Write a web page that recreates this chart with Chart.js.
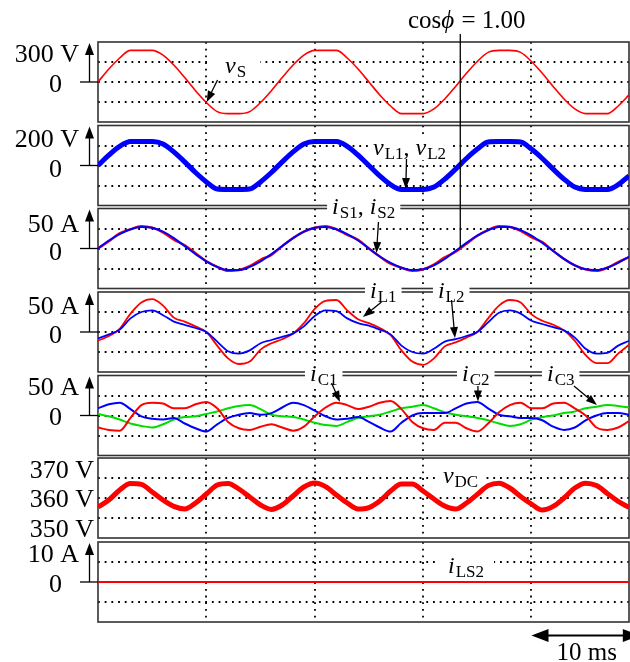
<!DOCTYPE html>
<html>
<head>
<meta charset="utf-8">
<script src="https://cdn.jsdelivr.net/npm/chart.js@4.4.0/dist/chart.umd.min.js"></script>
<style>
  body { margin: 0; background: #fff; }
  #wrap { position: relative; width: 630px; height: 662px; overflow: hidden; background: #fff; }
  #wrap canvas { position: absolute; left: 0; top: 0; }
</style>
</head>
<body>
<div id="wrap"></div>
<script>
// time axis, ms (one sample per ms)
const timeMs = [0, 1, 2, 3, 4, 5, 6, 7, 8, 9, 10, 11, 12, 13, 14, 15, 16, 17, 18, 19, 20, 21, 22, 23, 24,
  25, 26, 27, 28, 29, 30, 31, 32, 33, 34, 35, 36, 37, 38, 39, 40, 41, 42, 43, 44, 45, 46, 47, 48, 49];
const xGrid = [10, 20, 30, 40];

// source voltage (V)
const vS = [0, 97, 180, 237, 237, 237, 202, 127, 33, -65, -154, -222, -237, -237, -222, -154, -65, 33, 127, 202,
  237, 237, 237, 180, 97, 0, -97, -180, -237, -237, -237, -202, -127, -33, 65, 154, 222, 237, 237, 222,
  154, 65, -33, -127, -202, -237, -237, -237, -180, -97];

// load voltages (V)
const vL1 = [0, 55, 98, 122, 121, 122, 110, 66, 15, -37, -84, -120, -122, -121, -120, -80, -33, 20, 70, 110,
  122, 121, 122, 98, 50, -2, -54, -98, -122, -121, -122, -110, -66, -16, 37, 84, 120, 122, 121, 120,
  80, 33, -20, -70, -110, -122, -121, -122, -98, -50];
const vL2 = [0, 52, 96, 120, 120, 120, 108, 68, 18, -35, -82, -118, -120, -120, -118, -82, -35, 18, 68, 108,
  120, 120, 120, 96, 52, 0, -52, -96, -120, -120, -120, -108, -68, -18, 35, 82, 118, 120, 120, 118,
  82, 35, -18, -68, -108, -120, -120, -120, -96, -52];

// source currents (A)
const iS1 = [0, 9, 19, 24, 28, 26, 20, 11, 4, -6, -16, -23, -28, -27, -22, -14, -8, 3, 13, 21,
  26, 28, 24, 17, 11, 0, -10, -19, -24, -28, -26, -20, -11, -4, 6, 16, 23, 28, 27, 22,
  14, 8, -3, -13, -21, -26, -28, -24, -17, -11];
const iS2 = [0, 10, 18, 24, 27, 26, 21, 13, 3, -7, -16, -23, -27, -27, -23, -16, -7, 3, 13, 21,
  26, 27, 24, 18, 10, 0, -10, -18, -24, -27, -26, -21, -13, -3, 7, 16, 23, 27, 27, 23,
  16, 7, -3, -13, -21, -26, -27, -24, -18, -10];

// load currents (A)
const iL1 = [-11, -5, 4, 23, 37, 41, 33, 18, 13, 7, 0, -17, -33, -40, -37, -22, -14, -9, -2, 11,
  29, 39, 40, 27, 16, 11, 5, -4, -23, -37, -41, -33, -18, -13, -7, 0, 17, 33, 40, 37,
  22, 14, 9, 2, -11, -29, -39, -39, -27, -16];
const iL2 = [-8, -3, 3, 17, 25, 27, 21, 13, 9, 5, 0, -12, -24, -27, -23, -14, -10, -6, -2, 7,
  20, 27, 26, 17, 11, 8, 3, -3, -17, -25, -27, -21, -12, -9, -5, 0, 12, 24, 27, 23,
  14, 10, 6, 2, -7, -21, -27, -26, -17, -11];

// capacitor currents (A)
const iC1 = [-15, -18, -19, -3, 13, 16, 15, 9, 9, 14, 17, 9, -8, -16, -18, -14, -11, -15, -19, -14,
  -1, 10, 16, 13, 8, 11, 16, 18, 8, -8, -16, -18, -9, -9, -16, -20, -10, 4, 13, 16,
  9, 9, 15, 16, 9, 0, -15, -18, -15, -7];
const iC2 = [9, 14, 16, 8, -1, -4, -5, -3, -10, -16, -20, -11, -3, 1, 3, 1, 3, 10, 16, 13,
  6, -1, -5, -4, -2, -8, -15, -20, -9, 0, 3, 3, 3, 9, 15, 17, 9, 1, -1, -3,
  -3, -6, -14, -18, -15, -6, 0, 3, 3, 1];
const iC3 = [2, -1, -5, -10, -13, -15, -11, -5, -2, -1, 2, 5, 9, 12, 13, 8, 1, -1, -2, -5,
  -9, -12, -13, -8, -3, -1, 1, 5, 9, 11, 13, 9, 4, 1, -1, -3, -6, -10, -13, -11,
  -5, -2, 0, 3, 5, 9, 11, 13, 12, 10];

// dc link voltage (V)
const vDC = [355.5, 359, 364, 367.2, 366.8, 363, 359, 355.8, 354.5, 357.5, 362, 366.5, 367.3, 364.5, 360.5,
  356.5, 354.3, 356.5, 361, 365.5, 367.5, 365.7, 361.5, 357.5, 354.5, 355.2, 358.5, 363.5, 367, 367,
  363.5, 359.5, 356, 354.5, 357.5, 361.8, 366.2, 367.4, 365, 360.8, 357, 354, 355.8, 360, 365,
  367.4, 366.2, 362.3, 358.3, 355.3];

// switch current (A)
const tLS2 = [0, 49];
const iLS2 = [0, 0];

const SERIF = '"Liberation Serif", "Times New Roman", serif';
const RED = "#ff0000", BLUE = "#0000ff", GREEN = "#00dd00";

// series are listed bottom to top
const panels = [
  {
    top: 42, min: -300, max: 300, grid: [-150, 0, 150],
    series: [{ y: vS, color: RED, w: 1.6 }],
    labels: [{ text: "300 V", v: 152, x: 79 }, { text: "0", v: -73, x: 62 }],
    notes: [
      { parts: [["v", "it"], ["S", "sub"]], t: 11.72, v: 67.5, pad: 14 },
      { parts: [["cos", "rm"], ["\u03d5", "it"], [" = 1.00", "rm"]], t: 28.6, v: 405, size: 25 }
    ],
    arrows: [{ from: [11.03, 15], to: [10.03, -150] }]
  },
  {
    top: 125.5, min: -200, max: 200, grid: [-100, 0, 100],
    series: [{ y: vL1, color: RED, w: 3.2 }, { y: vL2, color: BLUE, w: 5 }],
    labels: [{ text: "200 V", v: 94, x: 79 }, { text: "0", v: -56, x: 62 }],
    notes: [{ parts: [["v", "it"], ["L1", "sub"], [", ", "rm"], ["v", "it"], ["L2", "sub"]], t: 25.38, v: 52.5, pad: 5 }],
    arrows: [{ from: [28.47, 32.5], to: [28.4, -117.5] }]
  },
  {
    top: 208.5, min: -50, max: 50, grid: [-25, 0, 25],
    series: [{ y: iS1, color: RED, w: 2.4 }, { y: iS2, color: BLUE, w: 2 }],
    labels: [{ text: "50 A", v: 21, x: 79 }, { text: "0", v: -14.4, x: 62 }],
    notes: [{ parts: [["i", "it"], ["S1", "sub"], [", ", "rm"], ["i", "it"], ["S2", "sub"]], t: 21.6, v: 43.75, pad: 5 }],
    arrows: [{ from: [25.88, 33.1], to: [25.7, -5.6] }],
    vline: { t: 33.43, v1: 268, v2: 1.5 }
  },
  {
    top: 292, min: -50, max: 50, grid: [-25, 0, 25],
    series: [{ y: iL1, color: RED, w: 1.8 }, { y: iL2, color: BLUE, w: 1.8 }],
    labels: [{ text: "50 A", v: 23, x: 79 }, { text: "0", v: -14.1, x: 62 }],
    notes: [
      { parts: [["i", "it"], ["L1", "sub"]], t: 25.1, v: 42.5, pad: 5 },
      { parts: [["i", "it"], ["L2", "sub"]], t: 31.37, v: 42.5, pad: 5 }
    ],
    arrows: [{ from: [26.16, 37.5], to: [24.45, 18.75] }, { from: [32.62, 40], to: [32.94, -7.5] }]
  },
  {
    top: 375.5, min: -50, max: 50, grid: [-25, 0, 25],
    series: [{ y: iC3, color: GREEN, w: 2 }, { y: iC2, color: BLUE, w: 2 }, { y: iC1, color: RED, w: 2 }],
    labels: [{ text: "50 A", v: 25.5, x: 79 }, { text: "0", v: -11.9, x: 62 }],
    notes: [
      { parts: [["i", "it"], ["C1", "sub"]], t: 19.56, v: 43.1, pad: 5 },
      { parts: [["i", "it"], ["C2", "sub"]], t: 33.59, v: 43.1, pad: 5 },
      { parts: [["i", "it"], ["C3", "sub"]], t: 41.43, v: 43.1, pad: 5 }
    ],
    arrows: [
      { from: [21.55, 40.6], to: [22.33, 16.9] },
      { from: [35.06, 36.9], to: [35.06, 17.5] },
      { from: [43.92, 36.9], to: [46.04, 13.1] }
    ]
  },
  {
    top: 458, min: 340, max: 380, grid: [350, 360, 370], noAxis: true,
    series: [{ y: vDC, color: RED, w: 5 }],
    labels: [{ text: "370 V", v: 370, x: 94 }, { text: "360 V", v: 355.7, x: 94 }, { text: "350 V", v: 340.7, x: 94 }],
    notes: [{ parts: [["v", "it"], ["DC", "sub"]], t: 31.83, v: 367.5, pad: 4 }],
    arrows: []
  },
  {
    top: 542, min: -10, max: 10, grid: [-5, 0, 5], times: tLS2,
    series: [{ y: iLS2, color: RED, w: 2 }],
    labels: [{ text: "10 A", v: 5, x: 79 }, { text: "0", v: -2.4, x: 62 }],
    notes: [{ parts: [["i", "it"], ["LS2", "sub"]], t: 32.3, v: 2.25, pad: 10 }],
    arrows: [],
    scaleBar: { t1: 40, t2: 50, text: "10 ms" }
  }
];

function fontOf(style, size) {
  if (style === "it") return "italic " + size + "px " + SERIF;
  if (style === "sub") return Math.round(size * 0.7) + "px " + SERIF;
  return size + "px " + SERIF;
}

function richWidth(ctx, parts, size) {
  let w = 0;
  parts.forEach((p) => {
    ctx.font = fontOf(p[1], size);
    w += ctx.measureText(p[0]).width + (p[1] === "it" ? 1 : 0);
  });
  return w;
}

function drawRich(ctx, x, y, parts, size) {
  ctx.fillStyle = "#000";
  let cx = x;
  parts.forEach((p) => {
    ctx.font = fontOf(p[1], size);
    ctx.fillText(p[0], cx, y + (p[1] === "sub" ? 4 : 0));
    cx += ctx.measureText(p[0]).width + (p[1] === "it" ? 1 : 0);
  });
}

function arrowHead(ctx, x1, y1, x2, y2, len, half) {
  const a = Math.atan2(y2 - y1, x2 - x1);
  ctx.beginPath();
  ctx.moveTo(x2, y2);
  ctx.lineTo(x2 - len * Math.cos(a) + half * Math.sin(a), y2 - len * Math.sin(a) - half * Math.cos(a));
  ctx.lineTo(x2 - len * Math.cos(a) - half * Math.sin(a), y2 - len * Math.sin(a) + half * Math.cos(a));
  ctx.closePath();
  ctx.fill();
}

function line(ctx, x1, y1, x2, y2) {
  ctx.beginPath();
  ctx.moveTo(x1, y1);
  ctx.lineTo(x2, y2);
  ctx.stroke();
}

// grid, frame and label backgrounds go under the traces; text and arrows on top
const scopePlugin = {
  id: "scope",
  beforeDatasetsDraw(chart) {
    const p = chart.options.plugins.scope.panel;
    const ctx = chart.ctx, a = chart.chartArea;
    const xs = chart.scales.x, ys = chart.scales.y;
    ctx.save();
    ctx.strokeStyle = "#000";
    ctx.lineWidth = 1.8;
    ctx.setLineDash([1.8, 4.9]);
    xGrid.forEach((t) => {
      const x = Math.round(xs.getPixelForValue(t));
      line(ctx, x, a.top, x, a.bottom);
    });
    p.grid.forEach((v) => {
      const y = Math.round(ys.getPixelForValue(v));
      line(ctx, a.left, y, a.right, y);
    });
    ctx.setLineDash([]);
    ctx.strokeStyle = "#333";
    ctx.lineWidth = 1.6;
    ctx.strokeRect(a.left, a.top, a.right - a.left, a.bottom - a.top);

    ctx.fillStyle = "#fff";
    p.notes.forEach((n) => {
      if (!n.pad) return;
      const x = xs.getPixelForValue(n.t), y = ys.getPixelForValue(n.v);
      const w = richWidth(ctx, n.parts, n.size || 24);
      ctx.fillRect(x - n.pad, y - 17, w + 2 * n.pad, 22);
    });
    ctx.restore();
  },
  afterDraw(chart) {
    const p = chart.options.plugins.scope.panel;
    const ctx = chart.ctx, a = chart.chartArea;
    const xs = chart.scales.x, ys = chart.scales.y;
    ctx.save();
    ctx.fillStyle = "#000";
    ctx.strokeStyle = "#000";
    ctx.lineWidth = 1.3;

    // axis arrow
    if (!p.noAxis) {
      const y0 = ys.getPixelForValue(0);
      line(ctx, 80, y0, a.left, y0);
      line(ctx, 89.5, y0, 89.5, a.top + 8);
      arrowHead(ctx, 89.5, y0, 89.5, a.top + 1, 12, 4.5);
    }

    ctx.font = "26px " + SERIF;
    ctx.textAlign = "right";
    p.labels.forEach((l) => ctx.fillText(l.text, l.x, ys.getPixelForValue(l.v)));
    ctx.textAlign = "left";

    if (p.vline) {
      const x = xs.getPixelForValue(p.vline.t);
      line(ctx, x, ys.getPixelForValue(p.vline.v1), x, ys.getPixelForValue(p.vline.v2));
    }

    p.notes.forEach((n) => {
      drawRich(ctx, xs.getPixelForValue(n.t), ys.getPixelForValue(n.v), n.parts, n.size || 24);
    });

    ctx.lineWidth = 1.3;
    p.arrows.forEach((r) => {
      const x1 = xs.getPixelForValue(r.from[0]), y1 = ys.getPixelForValue(r.from[1]);
      const x2 = xs.getPixelForValue(r.to[0]), y2 = ys.getPixelForValue(r.to[1]);
      const d = Math.hypot(x2 - x1, y2 - y1);
      line(ctx, x1, y1, x2 - (x2 - x1) * 8 / d, y2 - (y2 - y1) * 8 / d);
      arrowHead(ctx, x1, y1, x2, y2, 11, 4);
    });

    // time scale bar
    if (p.scaleBar) {
      const x1 = xs.getPixelForValue(p.scaleBar.t1), x2 = xs.getPixelForValue(p.scaleBar.t2);
      const y = a.bottom + 13.5;
      ctx.lineWidth = 2;
      line(ctx, x1 + 10, y, x2 - 10, y);
      arrowHead(ctx, x2, y, x1, y, 17, 6.5);
      arrowHead(ctx, x1, y, x2, y, 17, 6.5);
      ctx.font = "25px " + SERIF;
      ctx.textAlign = "center";
      ctx.fillText(p.scaleBar.text, (x1 + x2) / 2 + 1, 660);
    }
    ctx.restore();
  }
};

const wrap = document.getElementById("wrap");
panels.forEach((p) => {
  const canvas = document.createElement("canvas");
  canvas.width = 630;
  canvas.height = 662;
  wrap.appendChild(canvas);
  const times = p.times || timeMs;
  new Chart(canvas.getContext("2d"), {
    type: "line",
    data: {
      // Chart.js paints dataset 0 last, so the top trace goes first
      datasets: p.series.slice().reverse().map((s) => ({
        data: times.map((t, i) => ({ x: t, y: s.y[i] })),
        borderColor: s.color,
        borderWidth: s.w,
        pointRadius: 0,
        cubicInterpolationMode: "monotone",
        fill: false
      }))
    },
    options: {
      responsive: false,
      animation: false,
      devicePixelRatio: 1,
      events: [],
      layout: { padding: { left: 98, right: 1, top: p.top, bottom: 662 - p.top - 80 } },
      plugins: { legend: { display: false }, tooltip: { enabled: false }, scope: { panel: p } },
      scales: {
        x: { type: "linear", min: 0, max: 49, display: false },
        y: { min: p.min, max: p.max, display: false }
      }
    },
    plugins: [scopePlugin]
  });
});
</script>
</body>
</html>
